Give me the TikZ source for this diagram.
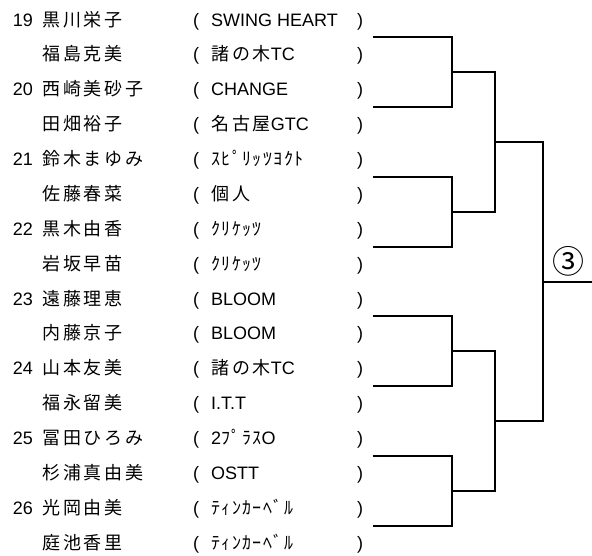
\documentclass[tikz,border=0pt]{standalone}
\usepackage{fontspec}
\setmainfont{Liberation Sans}
\newfontfamily\jp[LetterSpace=16]{Noto Sans CJK JP}
\newfontfamily\jphalf[LetterSpace=8]{Noto Sans CJK JP}
\newfontfamily\jpsym{Noto Sans CJK JP}
\usepackage{tikz}

\begin{document}
\begin{tikzpicture}[x=1pt, y=-1pt,
        every node/.style={inner sep=0pt, text height=14pt, text depth=2pt, font=\fontsize{18}{22}\selectfont},
        num/.style={anchor=east},
        player/.style={anchor=west},
        club/.style={anchor=west},
        paren/.style={anchor=west},
        line/.style={line width=2pt}]
        \useasboundingbox (0, 0) rectangle (592, 555);

        \node[num] (n19) at (33, 20.0) {19};
        \node[player] (p1) at (42, 20.0) {\jp 黒川栄子};
        \node[paren] (l1) at (193, 20.0) {(};
        \node[club] (c1) at (211, 20.0) {SWING HEART};
        \node[paren] (r1) at (357, 20.0) {)};

        \node[player] (p2) at (42, 54.9) {\jp 福島克美};
        \node[paren] (l2) at (193, 54.9) {(};
        \node[club] (c2) at (211, 54.9) {{\jp 諸の木}TC};
        \node[paren] (r2) at (357, 54.9) {)};

        \node[num] (n20) at (33, 89.7) {20};
        \node[player] (p3) at (42, 89.7) {\jp 西崎美砂子};
        \node[paren] (l3) at (193, 89.7) {(};
        \node[club] (c3) at (211, 89.7) {CHANGE};
        \node[paren] (r3) at (357, 89.7) {)};

        \node[player] (p4) at (42, 124.6) {\jp 田畑裕子};
        \node[paren] (l4) at (193, 124.6) {(};
        \node[club] (c4) at (211, 124.6) {{\jp 名古屋}GTC};
        \node[paren] (r4) at (357, 124.6) {)};

        \node[num] (n21) at (33, 159.5) {21};
        \node[player] (p5) at (42, 159.5) {\jp 鈴木まゆみ};
        \node[paren] (l5) at (193, 159.5) {(};
        \node[club] (c5) at (211, 159.5) {\jphalf ｽﾋﾟﾘｯﾂﾖｸﾄ};
        \node[paren] (r5) at (357, 159.5) {)};

        \node[player] (p6) at (42, 194.4) {\jp 佐藤春菜};
        \node[paren] (l6) at (193, 194.4) {(};
        \node[club] (c6) at (211, 194.4) {\jp 個人};
        \node[paren] (r6) at (357, 194.4) {)};

        \node[num] (n22) at (33, 229.2) {22};
        \node[player] (p7) at (42, 229.2) {\jp 黒木由香};
        \node[paren] (l7) at (193, 229.2) {(};
        \node[club] (c7) at (211, 229.2) {\jphalf ｸﾘｹｯﾂ};
        \node[paren] (r7) at (357, 229.2) {)};

        \node[player] (p8) at (42, 264.1) {\jp 岩坂早苗};
        \node[paren] (l8) at (193, 264.1) {(};
        \node[club] (c8) at (211, 264.1) {\jphalf ｸﾘｹｯﾂ};
        \node[paren] (r8) at (357, 264.1) {)};

        \node[num] (n23) at (33, 299.0) {23};
        \node[player] (p9) at (42, 299.0) {\jp 遠藤理恵};
        \node[paren] (l9) at (193, 299.0) {(};
        \node[club] (c9) at (211, 299.0) {BLOOM};
        \node[paren] (r9) at (357, 299.0) {)};

        \node[player] (p10) at (42, 333.8) {\jp 内藤京子};
        \node[paren] (l10) at (193, 333.8) {(};
        \node[club] (c10) at (211, 333.8) {BLOOM};
        \node[paren] (r10) at (357, 333.8) {)};

        \node[num] (n24) at (33, 368.7) {24};
        \node[player] (p11) at (42, 368.7) {\jp 山本友美};
        \node[paren] (l11) at (193, 368.7) {(};
        \node[club] (c11) at (211, 368.7) {{\jp 諸の木}TC};
        \node[paren] (r11) at (357, 368.7) {)};

        \node[player] (p12) at (42, 403.6) {\jp 福永留美};
        \node[paren] (l12) at (193, 403.6) {(};
        \node[club] (c12) at (211, 403.6) {I.T.T};
        \node[paren] (r12) at (357, 403.6) {)};

        \node[num] (n25) at (33, 438.4) {25};
        \node[player] (p13) at (42, 438.4) {\jp 冨田ひろみ};
        \node[paren] (l13) at (193, 438.4) {(};
        \node[club] (c13) at (211, 438.4) {2{\jphalf ﾌﾟﾗｽ}O};
        \node[paren] (r13) at (357, 438.4) {)};

        \node[player] (p14) at (42, 473.3) {\jp 杉浦真由美};
        \node[paren] (l14) at (193, 473.3) {(};
        \node[club] (c14) at (211, 473.3) {OSTT};
        \node[paren] (r14) at (357, 473.3) {)};

        \node[num] (n26) at (33, 508.2) {26};
        \node[player] (p15) at (42, 508.2) {\jp 光岡由美};
        \node[paren] (l15) at (193, 508.2) {(};
        \node[club] (c15) at (211, 508.2) {\jphalf ﾃｨﾝｶｰﾍﾞﾙ};
        \node[paren] (r15) at (357, 508.2) {)};

        \node[player] (p16) at (42, 543.0) {\jp 庭池香里};
        \node[paren] (l16) at (193, 543.0) {(};
        \node[club] (c16) at (211, 543.0) {\jphalf ﾃｨﾝｶｰﾍﾞﾙ};
        \node[paren] (r16) at (357, 543.0) {)};

        % pair entries
        \coordinate (e1) at (372.7, 37.4);
        \coordinate (e2) at (372.7, 107.2);
        \coordinate (e3) at (372.7, 176.9);
        \coordinate (e4) at (372.7, 246.6);
        \coordinate (e5) at (372.7, 316.3);
        \coordinate (e6) at (372.7, 386.1);
        \coordinate (e7) at (372.7, 455.8);
        \coordinate (e8) at (372.7, 525.5);

        % joins
        \coordinate (a1) at (452, 72.3);
        \coordinate (a2) at (452, 211.8);
        \coordinate (a3) at (452, 351.2);
        \coordinate (a4) at (452, 490.7);
        \coordinate (b1) at (495, 142.0);
        \coordinate (b2) at (495, 421.0);
        \coordinate (final) at (543, 281.5);
        \coordinate (win) at (592, 281.5);

        \draw[line] (e1) -| (a1) |- (e2)
            (e3) -| (a2) |- (e4)
            (e5) -| (a3) |- (e6)
            (e7) -| (a4) |- (e8);
        \draw[line] (a1) -| (b1) |- (a2)
            (a3) -| (b2) |- (a4);
        \draw[line] (b1) -| (final) |- (b2)
            (final) -- (win);

        \node[font=\jpsym\fontsize{32}{32}\selectfont, text height=, text depth=] (block) at (568, 261) {③};
\end{tikzpicture}
\end{document}
